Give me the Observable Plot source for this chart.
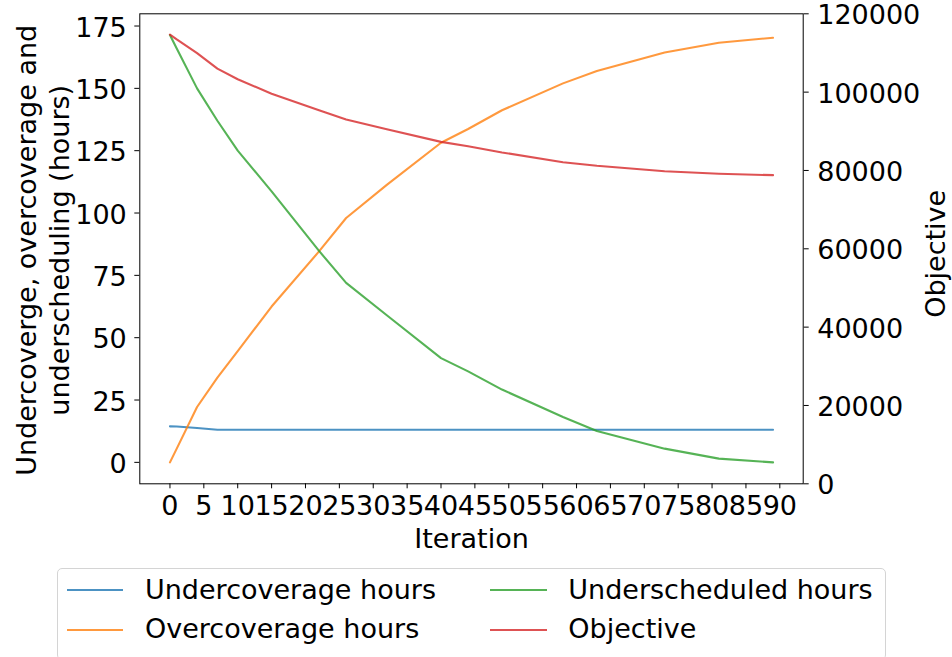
<!DOCTYPE html>
<html>
<head>
<meta charset="utf-8">
<script src="https://cdn.jsdelivr.net/npm/d3@7"></script>
<script src="https://cdn.jsdelivr.net/npm/@observablehq/plot@0.6"></script>
<style>
  body { margin: 0; background: #fff; font-family: "DejaVu Sans", sans-serif; }
  #wrap { position: relative; width: 952px; height: 657px; overflow: hidden; background: #fff; }
  #legend { position: absolute; left: 57px; top: 568px; width: 829px; height: 92px;
            border: 1px solid #d4d4d4; border-radius: 5px; box-sizing: border-box; background: #fff; }
  .item { position: absolute; font-size: 27px; line-height: 32px; white-space: nowrap; color: #000; }
  .sw { position: absolute; height: 0; border-top: 2px solid; }
</style>
</head>
<body>
<div id="wrap"><div id="chart"></div><div id="legend"></div></div>
<script>
// ---- data ----
const iterations     = [0, 1, 4, 7, 10, 15, 22, 26, 32, 40, 44, 49, 58, 63, 73, 81, 89];
const undercoverage  = [14.45, 14.4, 13.75, 13.1, 13.1, 13.1, 13.1, 13.1, 13.1, 13.1, 13.1, 13.1, 13.1, 13.1, 13.1, 13.1, 13.1];
const overcoverage   = [0, 5.5, 22.2, 34, 44.6, 62.5, 84.6, 98, 111.3, 128.2, 133.7, 141.2, 152, 157, 164.4, 168.3, 170.3];
const underscheduled = [171.4, 166, 150, 137, 125, 108.7, 84.8, 72, 59, 41.8, 36.5, 29.2, 18.2, 12.6, 5.5, 1.5, 0];
const objective      = [114700, 113450, 109950, 106000, 103300, 99600, 95400, 93000, 90500, 87300, 86200, 84600, 82100, 81200, 79800, 79150, 78800];

const seriesNames  = ["Undercoverage hours", "Overcoverage hours", "Underscheduled hours", "Objective"];
const seriesColors = ["#1f77b4", "#ff7f0e", "#2ca02c", "#d62728"];

const xTicks     = [0, 5, 10, 15, 20, 25, 30, 35, 40, 45, 50, 55, 60, 65, 70, 75, 80, 85, 90];
const leftTicks  = [0, 25, 50, 75, 100, 125, 150, 175];
const rightTicks = [0, 20000, 40000, 60000, 80000, 100000, 120000];

const xLabel      = "Iteration";
const yLabel      = "Undercoverge, overcoverage and\nunderscheduling (hours)";
const yRightLabel = "Objective";

// ---- scales ----
const xDomain = [-4.45, 93.45];
const yLo = -8.6, yHi = 179.9;          // left axis domain
const objLo = 0, objHi = 120000;        // right axis domain
const toLeft   = v => yLo + (v - objLo) / (objHi - objLo) * (yHi - yLo);
const fromLeft = u => objLo + (u - yLo) / (yHi - yLo) * (objHi - objLo);

const seriesValues = [undercoverage, overcoverage, underscheduled, objective];
const rows = [];
seriesNames.forEach((name, i) => {
  iterations.forEach((it, j) => {
    const v = seriesValues[i][j];
    rows.push({series: name, iteration: it, value: i === 3 ? toLeft(v) : v});
  });
});

const chart = Plot.plot({
  width: 952,
  height: 560,
  marginLeft: 139.3,
  marginRight: 149.3,
  marginTop: 13.3,
  marginBottom: 76.7,
  style: {fontFamily: "'DejaVu Sans', sans-serif", fontSize: "27px", background: "white", color: "black", overflow: "visible"},
  x: {domain: xDomain},
  y: {domain: [yLo, yHi]},
  color: {domain: seriesNames, range: seriesColors},
  marks: [
    Plot.line(rows, {x: "iteration", y: "value", z: "series", stroke: "series", strokeWidth: 2.1, strokeOpacity: 0.8}),
    Plot.frame({stroke: "black", strokeWidth: 1}),
    Plot.axisX(xTicks, {tickSize: 5, tickPadding: 7, label: null, tickFormat: d => String(d)}),
    Plot.axisY(leftTicks, {anchor: "left", tickSize: 5, tickPadding: 8, label: null,
      tickFormat: d => String(d)}),
    Plot.axisY(rightTicks.map(toLeft), {anchor: "right", tickSize: 5, tickPadding: 9, label: null,
      tickFormat: d => String(Math.round(fromLeft(d)))}),
    Plot.text([xLabel], {frameAnchor: "bottom", dy: 56, text: d => d, textAnchor: "middle", lineAnchor: "middle"}),
    Plot.text([yLabel], {frameAnchor: "left", dx: -97.9, dy: 1.5, rotate: -90, text: d => d,
      textAnchor: "middle", lineAnchor: "middle", lineHeight: 1.237}),
    Plot.text([yRightLabel], {frameAnchor: "right", dx: 132.7, dy: 5, rotate: -90, text: d => d,
      textAnchor: "middle", lineAnchor: "middle"})
  ]
});
document.getElementById("chart").appendChild(chart);

// nudge y tick labels down slightly (matplotlib center_baseline alignment)
d3.select(chart).selectAll("g[aria-label='y-axis tick label'] text").attr("dy", "0.07em");

// ---- legend (2 columns, matplotlib order) ----
const legend = document.getElementById("legend");
const legendCols = [[0, 1], [2, 3]];
const colX = [{sw: 8.7, tx: 87}, {sw: 432, tx: 510.3}];
const rowY = [{sw: 20, tx: 4.6}, {sw: 60, tx: 43.9}];
legendCols.forEach((col, c) => {
  col.forEach((si, r) => {
    const sw = document.createElement("div");
    sw.className = "sw";
    sw.style.left = colX[c].sw + "px";
    sw.style.top = rowY[r].sw + "px";
    sw.style.width = "56.6px";
    sw.style.borderTopColor = seriesColors[si];
    sw.style.opacity = 0.8;
    legend.appendChild(sw);
    const tx = document.createElement("div");
    tx.className = "item";
    tx.style.left = colX[c].tx + "px";
    tx.style.top = rowY[r].tx + "px";
    tx.textContent = seriesNames[si];
    legend.appendChild(tx);
  });
});
</script>
</body>
</html>
